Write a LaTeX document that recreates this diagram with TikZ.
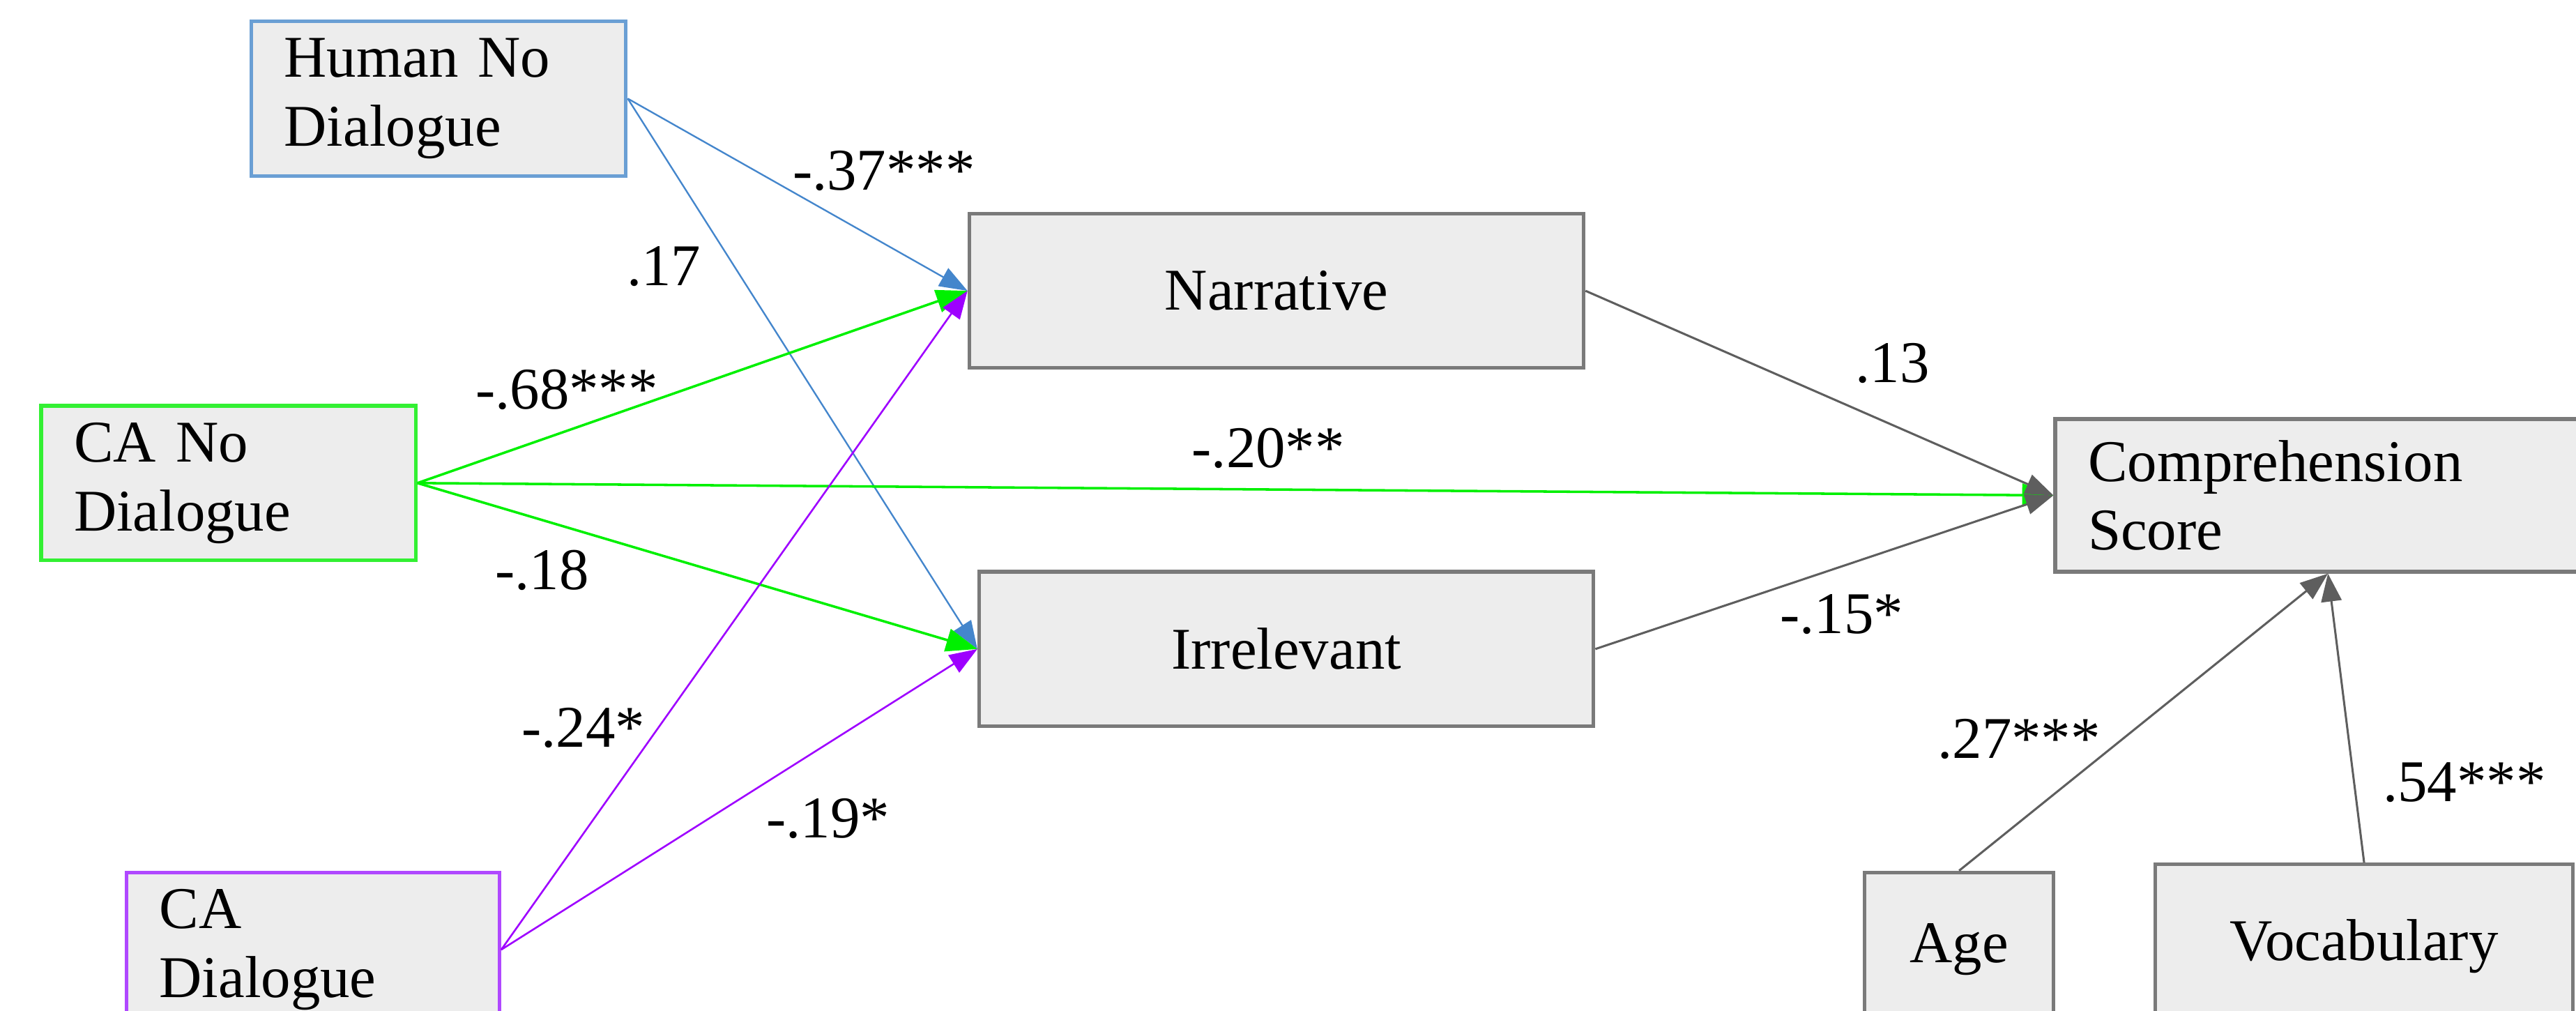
\documentclass[tikz,border=0pt]{standalone}
\usepackage{fontspec}
\setmainfont{Liberation Serif}
\usetikzlibrary{arrows.meta}

\definecolor{boxfill}{HTML}{EDEDED}
\definecolor{boxgray}{HTML}{7A7A7A}
\definecolor{linegray}{HTML}{5E5E5E}
\definecolor{hblue}{HTML}{4486CC}
\definecolor{hblueedge}{HTML}{6A9FD4}
\definecolor{cagreen}{HTML}{00F000}
\definecolor{cagreenedge}{HTML}{33F033}
\definecolor{capurple}{HTML}{9E00FF}
\definecolor{capurpleedge}{HTML}{B048FF}

\tikzset{
  txt/.style={font=\fontsize{18}{21}\selectfont},
  var/.style={txt, rectangle, draw=boxgray, line width=1.1pt, fill=boxfill,
              inner sep=0pt, minimum height=47pt},
  leftvar/.style={var, align=left, inner xsep=10pt, text width=#1},
  midvar/.style={var, align=center, minimum width=#1},
  lab/.style={txt, inner sep=0pt},
  conn/.style={line width=0.5pt, -{Triangle[length=8.5pt,width=6.2pt]}},
  bluearr/.style={conn, draw=hblue, fill=hblue},
  greenarr/.style={conn, line width=0.75pt, draw=cagreen, fill=cagreen,
                   -{Triangle[length=9.5pt,width=7pt]}},
  purplearr/.style={conn, line width=0.55pt, draw=capurple, fill=capurple},
  grayarr/.style={conn, line width=0.65pt, draw=linegray, fill=linegray}
}

\begin{document}
\begin{tikzpicture}[x=0.5pt,y=-0.5pt]
\useasboundingbox (0,0) rectangle (1568,615);
\clip (0,0) rectangle (1568,615);

% exogenous conditions
\node[leftvar=94pt, draw=hblueedge] (hnd) at (267,60) {Human No\\Dialogue};
\node[leftvar=94pt, draw=cagreenedge] (cand) at (139,294) {CA No\\Dialogue};
\node[leftvar=93.5pt, draw=capurpleedge] (cad) at (190.5,578) {CA\\Dialogue};

% mediators
\node[midvar=187pt] (narr) at (777,177) {Narrative};
\node[midvar=187pt] (irr) at (783,395) {Irrelevant};

% outcome and covariates
\node[leftvar=146pt, minimum height=46.5pt] (comp) at (1417,301.5) {Comprehension\\Score};
\node[midvar=57.5pt] (age) at (1192.5,578) {Age};
\node[midvar=127pt, minimum height=50pt] (voc) at (1439,576) {Vocabulary};

% paths
\draw[bluearr] (hnd.east) -- (narr.west);
\draw[bluearr] (hnd.east) -- (irr.west);
\draw[greenarr] (cand.east) -- (narr.west);
\draw[greenarr] (cand.east) -- (comp.west);
\draw[greenarr] (cand.east) -- (irr.west);
\draw[purplearr] (cad.east) -- (narr.west);
\draw[purplearr] (cad.east) -- (irr.west);
\draw[grayarr] (narr.east) -- (comp.west);
\draw[grayarr] (irr.east) -- (comp.west);
\draw[grayarr] (age.north) -- (comp.south);
\draw[grayarr] (voc.north) -- (comp.south);

% path coefficients
\node[lab] (l1) at (538,104) {-.37***};
\node[lab] (l2) at (404,162) {.17};
\node[lab] (l3) at (345,237) {-.68***};
\node[lab] (l4) at (772,273) {-.20**};
\node[lab] (l5) at (1152,221) {.13};
\node[lab] (l6) at (330,347) {-.18};
\node[lab] (l7) at (1121,374) {-.15*};
\node[lab] (l8) at (355,443) {-.24*};
\node[lab] (l9) at (504,498) {-.19*};
\node[lab] (l10) at (1229,450) {.27***};
\node[lab] (l11) at (1500,476) {.54***};
\end{tikzpicture}
\end{document}
